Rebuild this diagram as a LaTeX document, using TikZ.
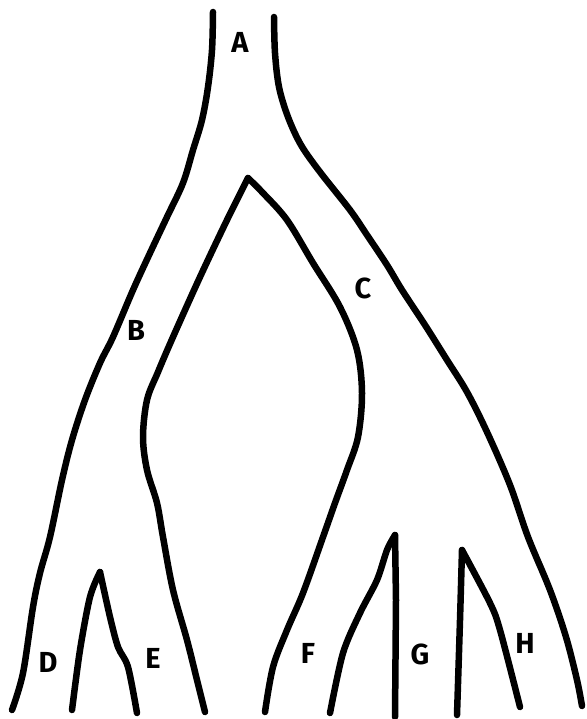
\documentclass[tikz,border=0pt]{standalone}
\usepackage{fontspec}
\setmainfont{Fira Sans}
\begin{document}
\begin{tikzpicture}[x=1pt,y=-1pt,
  branch/.style={line width=6.5pt,line cap=round,line join=round},
  lbl/.style={font=\fontsize{29}{29}\selectfont\bfseries,inner sep=0pt}]
\useasboundingbox (0,0) rectangle (586,719);
% outer left
\draw[branch] plot[smooth,tension=0.55] coordinates {(213,12) (212,50) (208,87) (202,120) (193,150) (183,183) (167,217) (150,253) (133,290) (113,337) (100,363) (85,400) (72,440) (62,480) (50,537) (40,573) (33,607) (23,673) (12,710)};
% outer right
\draw[branch] plot[smooth,tension=0.55] coordinates {(274,17) (275,53) (279,87) (288,117) (301,145) (320,172) (350,210) (367,235) (387,265) (402,290) (425,325) (447,360) (467,392) (487,432) (510,485) (528,537) (550,590) (566,637) (577,680) (582,706)};
% inner arch left
\draw[branch] plot[smooth,tension=0.55] coordinates {(248,178) (227,220) (200,277) (173,337) (158,372) (147,400) (143,437) (147,470) (157,503) (163,537) (173,590) (187,640) (197,680) (205,712)};
% inner arch right
\draw[branch] plot[smooth,tension=0.55] coordinates {(248,178) (263,193) (287,220) (313,263) (340,307) (357,350) (362,393) (358,437) (347,470) (335,503) (323,537) (303,593) (287,630) (273,667) (265,712)};
% D-E fork
\draw[branch] plot[smooth,tension=0.5] coordinates {(72,710) (80,650) (90,597) (100,572)};
\draw[branch] plot[smooth,tension=0.5] coordinates {(100,572) (110,617) (118,647) (128,667) (137,713)};
% F-G fork
\draw[branch] plot[smooth,tension=0.5] coordinates {(330,713) (343,653) (360,613) (377,580) (387,550) (395,535)};
\draw[branch] (395,535) -- (396,600) -- (395,717);
% H fork
\draw[branch] plot[smooth,tension=0.5] coordinates {(457,715) (460,620) (462,550)};
\draw[branch] plot[smooth,tension=0.5] coordinates {(462,550) (490,603) (500,630) (520,707)};
% labels
\node[lbl] (A) at (240,42) {A};
\node[lbl] (B) at (136,330) {B};
\node[lbl] (C) at (363,288) {C};
\node[lbl] (D) at (48,662) {D};
\node[lbl] (E) at (153,658) {E};
\node[lbl] (F) at (308,653) {F};
\node[lbl] (G) at (420,654) {G};
\node[lbl] (H) at (525,643) {H};
\end{tikzpicture}
\end{document}
